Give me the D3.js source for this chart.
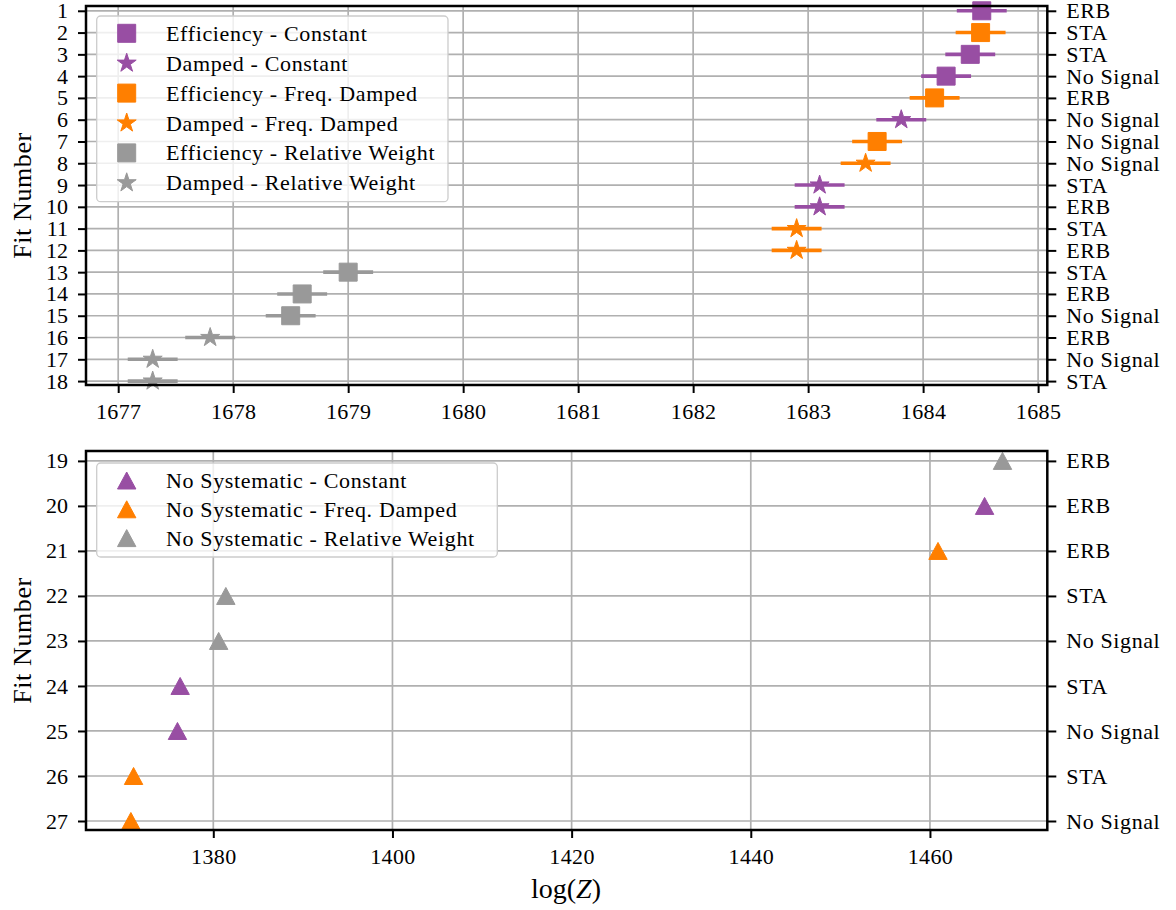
<!DOCTYPE html>
<html><head><meta charset="utf-8">
<script src="https://cdn.jsdelivr.net/npm/d3@7"></script>
<style>
body{margin:0;background:#fff}
text{font-family:"Liberation Serif","Times New Roman",serif;fill:#000}
</style>
</head><body>
<svg id="chart" width="1176" height="910"></svg>
<script>
// ---------- data ----------
const topTicks = [1677,1678,1679,1680,1681,1682,1683,1684,1685];
const bottomTicks = [1380,1400,1420,1440,1460];
const topFits = [1,2,3,4,5,6,7,8,9,10,11,12,13,14,15,16,17,18];
const topRightLabels = ["ERB","STA","STA","No Signal","ERB","No Signal","No Signal","No Signal","STA","ERB","STA","ERB","STA","ERB","No Signal","ERB","No Signal","STA"];
const bottomFits = [19,20,21,22,23,24,25,26,27];
const bottomRightLabels = ["ERB","ERB","ERB","STA","No Signal","STA","No Signal","STA","No Signal"];

// top panel series
const effConstFits = [1,3,4];
const effConstZ    = [1684.51,1684.41,1684.20];
const effConstErr  = [0.217,0.217,0.217];
const dampConstFits = [6,9,10];
const dampConstZ    = [1683.81,1683.10,1683.10];
const dampConstErr  = [0.217,0.217,0.217];
const effFreqFits = [2,5,7];
const effFreqZ    = [1684.50,1684.10,1683.60];
const effFreqErr  = [0.217,0.217,0.217];
const dampFreqFits = [8,11,12];
const dampFreqZ    = [1683.50,1682.90,1682.90];
const dampFreqErr  = [0.217,0.217,0.217];
const effRelFits = [13,14,15];
const effRelZ    = [1679.00,1678.60,1678.50];
const effRelErr  = [0.217,0.217,0.217];
const dampRelFits = [16,17,18];
const dampRelZ    = [1677.80,1677.30,1677.30];
const dampRelErr  = [0.217,0.217,0.217];

// bottom panel series
const noSysConstFits = [20,24,25];
const noSysConstZ    = [1466.1,1376.3,1376.0];
const noSysFreqFits = [21,26,27];
const noSysFreqZ    = [1460.9,1371.1,1370.8];
const noSysRelFits = [19,22,23];
const noSysRelZ    = [1468.1,1381.4,1380.6];

const purple = "#984ea3", orange = "#ff7f00", grey = "#999999";

const topSeries = [
  {name:"Efficiency - Constant", color:purple, shape:"square", fits:effConstFits, z:effConstZ, err:effConstErr},
  {name:"Damped - Constant", color:purple, shape:"star", fits:dampConstFits, z:dampConstZ, err:dampConstErr},
  {name:"Efficiency - Freq. Damped", color:orange, shape:"square", fits:effFreqFits, z:effFreqZ, err:effFreqErr},
  {name:"Damped - Freq. Damped", color:orange, shape:"star", fits:dampFreqFits, z:dampFreqZ, err:dampFreqErr},
  {name:"Efficiency - Relative Weight", color:grey, shape:"square", fits:effRelFits, z:effRelZ, err:effRelErr},
  {name:"Damped - Relative Weight", color:grey, shape:"star", fits:dampRelFits, z:dampRelZ, err:dampRelErr}
];
const bottomSeries = [
  {name:"No Systematic - Constant", color:purple, shape:"triangle", fits:noSysConstFits, z:noSysConstZ},
  {name:"No Systematic - Freq. Damped", color:orange, shape:"triangle", fits:noSysFreqFits, z:noSysFreqZ},
  {name:"No Systematic - Relative Weight", color:grey, shape:"triangle", fits:noSysRelFits, z:noSysRelZ}
];

// ---------- drawing ----------
const svg = d3.select("#chart");
const FS = 22;
const L = 86, R = 1047.3;

function markerPath(shape){
  if(shape==="square") return "M-9,-9H9V9H-9Z";
  if(shape==="star") return d3.symbol(d3.symbolStar, 112)();
  return "M0,-8.5L9.2,8.5L-9.2,8.5Z";
}

function panel(opts){
  const g = svg.append("g");
  const x = d3.scaleLinear().domain(opts.xDomain).range([L,R]);
  const y = d3.scaleLinear().domain(opts.yDomain).range([opts.top,opts.bottom]);
  // grid
  g.append("g").selectAll("line").data(opts.xTicks).join("line")
    .attr("x1",d=>x(d)).attr("x2",d=>x(d)).attr("y1",opts.top).attr("y2",opts.bottom)
    .attr("stroke","#b0b0b0").attr("stroke-width",1.7);
  g.append("g").selectAll("line").data(opts.fits).join("line")
    .attr("x1",L).attr("x2",R).attr("y1",d=>y(d)).attr("y2",d=>y(d))
    .attr("stroke","#b0b0b0").attr("stroke-width",1.7);
  // series
  opts.series.forEach(s=>{
    const pts = s.fits.map((f,i)=>({f, z:s.z[i], e:s.err?s.err[i]:0}));
    if(s.err){
      g.append("g").selectAll("line").data(pts).join("line")
        .attr("x1",d=>x(d.z-d.e)).attr("x2",d=>x(d.z+d.e))
        .attr("y1",d=>y(d.f)).attr("y2",d=>y(d.f))
        .attr("stroke",s.color).attr("stroke-width",3.6);
    }
    g.append("g").selectAll("path").data(pts).join("path")
      .attr("d",markerPath(s.shape))
      .attr("transform",d=>`translate(${x(d.z)},${y(d.f)})`)
      .attr("fill",s.color).attr("stroke",s.color).attr("stroke-width",1).attr("stroke-linejoin","round");
  });
  // axes
  const ax = g.append("g").attr("transform",`translate(0,${opts.bottom})`)
    .call(d3.axisBottom(x).tickValues(opts.xTicks).tickSize(8).tickPadding(10).tickFormat(d3.format("d")));
  const ayl = g.append("g").attr("transform",`translate(${L},0)`)
    .call(d3.axisLeft(y).tickValues(opts.fits).tickSize(8).tickPadding(10).tickFormat(d3.format("d")));
  const ayr = g.append("g").attr("transform",`translate(${R},0)`)
    .call(d3.axisRight(y).tickValues(opts.fits).tickSize(9).tickPadding(10).tickFormat((d,i)=>opts.rightLabels[i]));
  [ax,ayl,ayr].forEach(a=>{
    a.select(".domain").remove();
    a.selectAll(".tick line").attr("stroke","#000").attr("stroke-width",2);
    a.selectAll("text").style("font-family",'"Liberation Serif",serif').style("font-size",FS+"px").attr("fill","#000");
  });
  ayr.selectAll("text").style("letter-spacing","0.6px");
  ax.selectAll("text").style("letter-spacing","0.4px");
  // frame
  g.append("rect").attr("x",L).attr("y",opts.top).attr("width",R-L).attr("height",opts.bottom-opts.top)
    .attr("fill","none").attr("stroke","#000").attr("stroke-width",2.5);
  // y label
  g.append("text").attr("transform",`translate(31,${(opts.top+opts.bottom)/2}) rotate(-90)`)
    .attr("text-anchor","middle").style("font-size","26px").style("letter-spacing","0.6px").text("Fit Number");
  // legend
  const lg = g.append("g");
  lg.append("rect").attr("x",96.7).attr("y",opts.legTop).attr("width",opts.legW).attr("height",opts.legH)
    .attr("rx",4).attr("fill","#fff").attr("fill-opacity",0.8).attr("stroke","#cccccc").attr("stroke-width",1.3);
  opts.series.forEach((s,i)=>{
    const cy = opts.legRow0 + i*opts.legStep;
    lg.append("path").attr("d",markerPath(s.shape)).attr("transform",`translate(126.7,${cy})`)
      .attr("fill",s.color).attr("stroke",s.color).attr("stroke-width",1).attr("stroke-linejoin","round");
    lg.append("text").attr("x",166).attr("y",cy+7.5).style("font-size",FS+"px")
      .style("letter-spacing","0.65px").text(s.name);
  });
  return {x,y};
}

panel({xDomain:[1676.72,1685.08], yDomain:[0.78,18.18], top:6, bottom:385,
  xTicks:topTicks, fits:topFits, rightLabels:topRightLabels, series:topSeries,
  legTop:16, legW:351.3, legH:185.7, legRow0:33.3, legStep:29.9});
panel({xDomain:[1365.79,1473.1], yDomain:[18.78,27.2], top:451, bottom:830,
  xTicks:bottomTicks, fits:bottomFits, rightLabels:bottomRightLabels, series:bottomSeries,
  legTop:463, legW:400.6, legH:94, legRow0:480.5, legStep:28.8});

// x label
const xl = svg.append("text").attr("x",566).attr("y",898).attr("text-anchor","middle").style("font-size","28px");
xl.append("tspan").text("log(");
xl.append("tspan").style("font-style","italic").text("Z");
xl.append("tspan").text(")");
</script>
</body></html>
